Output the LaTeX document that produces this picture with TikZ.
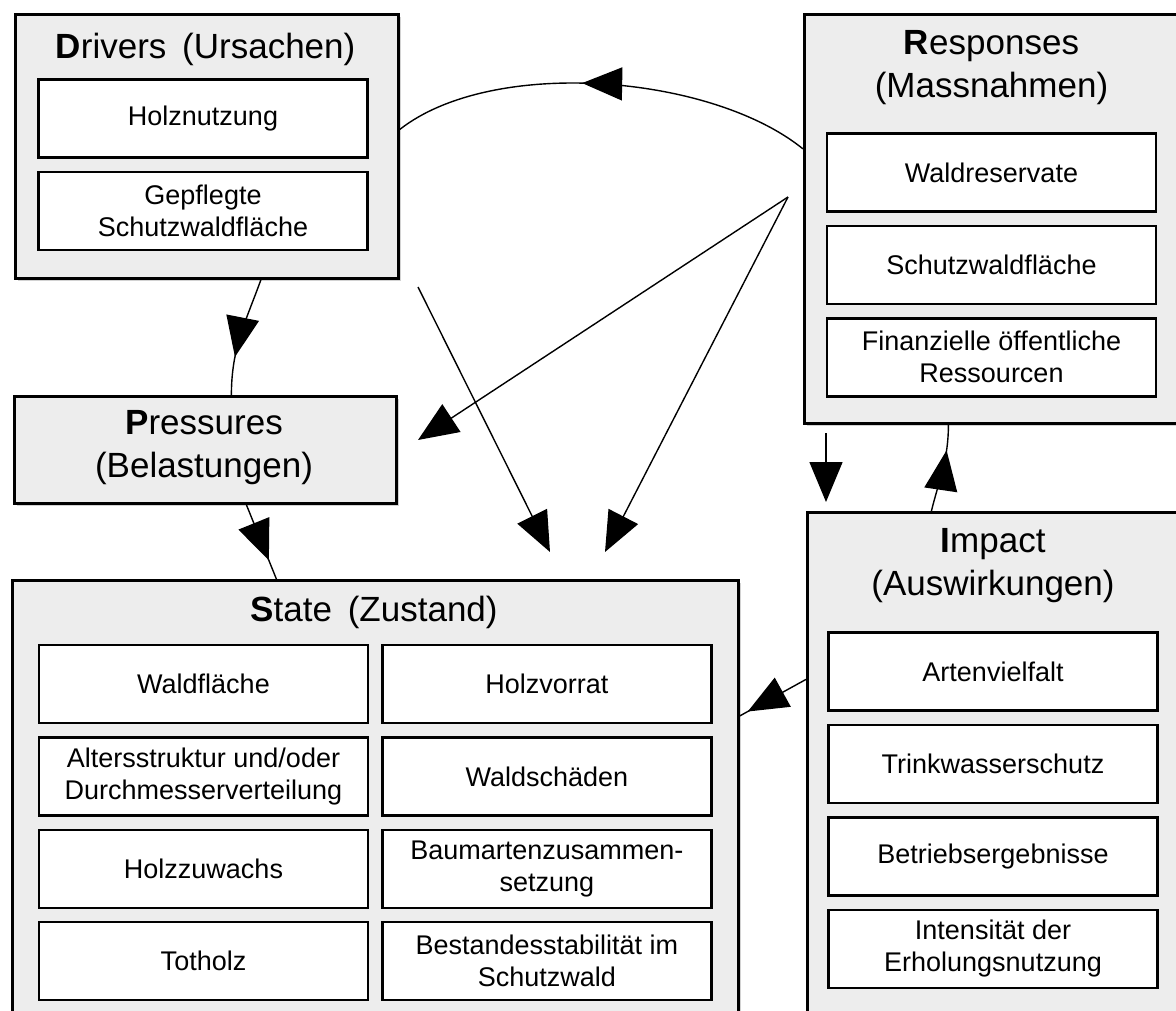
\documentclass[tikz,border=0pt]{standalone}
\usepackage{fontspec}
\setmainfont{Liberation Sans}
\usetikzlibrary{positioning, calc, shadows, arrows.meta, decorations.markings}

\begin{document}
\begin{tikzpicture}[x=1pt, y=-1pt,
  group/.style={rectangle, draw, line width=2.8pt, fill=black!7, anchor=north west, drop shadow={shadow xshift=3pt, shadow yshift=-3pt, opacity=0.35}},
  heading/.style={align=center, font=\fontsize{35}{43}\selectfont},
  entry/.style={rectangle, draw, line width=2.4pt, fill=white, minimum width=329pt, minimum height=78pt, align=center, font=\fontsize{27}{32}\selectfont},
  link/.style={line width=1.4pt},
  bigtip/.style={-{Triangle[length=40pt, width=33pt]}},
  midtip/.style={decoration={markings, mark=at position #1 with {\arrow{Triangle[length=40pt, width=33pt]}}}, postaction={decorate}},
  node distance=12pt]

\useasboundingbox (0,0) rectangle (1176,1010);
\fill[white] (0,0) rectangle (1176,1010);
\clip (0,0) rectangle (1176,1010);

% Drivers

\node[group, minimum width=383pt, minimum height=264pt] (drivers) at (14,13) {};
\node[heading] (driverstitle) at (205.5,49) {\textbf{D}rivers\hspace{0.45em}(Ursachen)};
\node[entry] (holznutzung) at (203,118.5) {Holznutzung};
\node[entry, below=of holznutzung] (gepflegt) {Gepflegte\\Schutzwaldfläche};

% Responses

\node[group, minimum width=377pt, minimum height=409pt] (responses) at (803,13) {};
\node[heading] (responsestitle) at (991.5,68) {\textbf{R}esponses\\(Massnahmen)};
\node[entry] (waldreservate) at (991.5,172.5) {Waldreservate};
\node[entry, below=of waldreservate] (schutzwald) {Schutzwaldfläche};
\node[entry, below=of schutzwald] (ressourcen) {Finanzielle öffentliche\\Ressourcen};

% Pressures

\node[group, minimum width=382pt, minimum height=107pt] (pressures) at (13,395) {};
\node[heading] (pressurestitle) at (204,448) {\textbf{P}ressures\\(Belastungen)};

% State

\node[group, minimum width=726pt, minimum height=440pt] (state) at (11,579) {};
\node[heading] (statetitle) at (374,612) {\textbf{S}tate\hspace{0.45em}(Zustand)};
\node[entry] (waldflaeche) at (203.5,684) {Waldfläche};
\node[entry, below=of waldflaeche] (altersstruktur) {Altersstruktur und/oder\\Durchmesserverteilung};
\node[entry, below=of altersstruktur] (holzzuwachs) {Holzzuwachs};
\node[entry, below=of holzzuwachs] (totholz) {Totholz};
\node[entry, right=of waldflaeche] (holzvorrat) {Holzvorrat};
\node[entry, right=of altersstruktur] (waldschaeden) {Waldschäden};
\node[entry, right=of holzzuwachs] (baumarten) {Baumartenzusammen-\\setzung};
\node[entry, right=of totholz] (stabilitaet) {Bestandesstabilität im\\Schutzwald};

% Impact

\node[group, minimum width=374pt, minimum height=503pt] (impact) at (806,511) {};
\node[heading] (impacttitle) at (993,566) {\textbf{I}mpact\\(Auswirkungen)};
\node[entry] (artenvielfalt) at (993,671.5) {Artenvielfalt};
\node[entry, below=of artenvielfalt] (trinkwasser) {Trinkwasserschutz};
\node[entry, below=of trinkwasser] (betrieb) {Betriebsergebnisse};
\node[entry, below=of betrieb] (erholung) {Intensität der\\Erholungsnutzung};

% Loose ends

\coordinate (leftfoot) at (418,287);
\coordinate (statetopleft) at (550,552);
\coordinate (rightfoot) at (788,197);
\coordinate (pressuresright) at (418,440);
\coordinate (statetopright) at (605,552);
\coordinate (responsesfoot) at (826,433);
\coordinate (impacthead) at (826,502);

% Connectors

\draw[link, midtip=0.55] ($(responses.west)+(0,-70)$) to[out=141, in=38, looseness=0.75] ($(drivers.east)+(0,-17)$);

\draw[link, midtip=0.68] ($(drivers.south)+(54,0)$) to[out=-110, in=90] ($(pressures.north)+(26,0)$);

\draw[link, midtip=0.75] ($(pressures.south)+(41,0)$) -- ($(state.north)+(-99,0)$);

\draw[link, bigtip] (leftfoot) -- (statetopleft);
\draw[link, bigtip] (rightfoot) -- (pressuresright);
\draw[link, bigtip] (rightfoot) -- (statetopright);
\draw[link, bigtip] (responsesfoot) -- (impacthead);

\draw[link, midtip=0.71] ($(impact.north)+(-63,0)$) to[out=76, in=-90] ($(responses.south)+(-44.5,0)$);

\draw[link, midtip=0.88] ($(impact.west)+(0,-84.5)$) -- ($(state.east)+(0,-84.5)$);

\end{tikzpicture}
\end{document}
